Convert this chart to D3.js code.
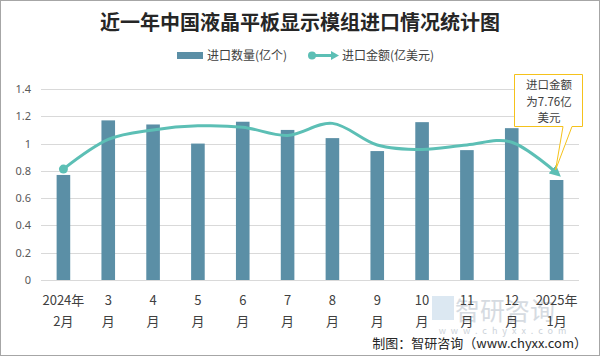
<!DOCTYPE html>
<html><head><meta charset="utf-8">
<script src="https://cdn.jsdelivr.net/npm/d3@7"></script>
<style>body{margin:0;background:#fff}svg{display:block}text{font-family:"Noto Sans CJK SC","Noto Sans",sans-serif}</style>
</head><body><svg id="c" width="600" height="356"></svg>
<script>
const categories = ["2024年|2月","3|月","4|月","5|月","6|月","7|月","8|月","9|月","10|月","11|月","12|月","2025年|1月"];
const quantity = [0.77,1.17,1.14,1.00,1.16,1.10,1.04,0.945,1.157,0.952,1.113,0.733];
const amount = [0.813,1.03,1.10,1.13,1.12,1.06,1.148,0.99,0.957,0.99,1.01,0.785];
const yTicks = [0,0.2,0.4,0.6,0.8,1,1.2,1.4];
const title = "近一年中国液晶平板显示模组进口情况统计图";
const legendNames = ["进口数量(亿个)","进口金额(亿美元)"];
const calloutLines = ["进口金额","为7.76亿","美元"];
const footer = "制图：智研咨询（www.chyxx.com）";

const svg = d3.select("#c");
const barColor = "#5b8fa6", lineColor = "#5cbfb5";
svg.append("rect").attr("x",0.5).attr("y",0.5).attr("width",599).attr("height",355).attr("fill","#fff").attr("stroke","#a6a6a6");

const x = d3.scaleBand().domain(categories).range([41,579]).paddingInner(0).paddingOuter(0);
const y = d3.scaleLinear().domain([0,1.4]).range([280,89]);

// title
svg.append("text").attr("x",300).attr("y",30).attr("text-anchor","middle").attr("font-size",20).attr("font-weight","bold").attr("fill","#262626").text(title);

// legend
svg.append("rect").attr("x",177).attr("y",52).attr("width",26).attr("height",7).attr("fill",barColor);
svg.append("text").attr("x",207).attr("y",60).attr("font-size",12).attr("fill","#404040").text(legendNames[0]);
svg.append("line").attr("x1",312).attr("x2",333).attr("y1",55.5).attr("y2",55.5).attr("stroke",lineColor).attr("stroke-width",3);
svg.append("circle").attr("cx",312).attr("cy",55.5).attr("r",4).attr("fill",lineColor);
svg.append("path").attr("d","M331,51 L339,55.5 L331,60 Z").attr("fill",lineColor);
svg.append("text").attr("x",342).attr("y",60).attr("font-size",12).attr("fill","#404040").text(legendNames[1]);

// grid
svg.append("g").selectAll("line").data(yTicks).join("line")
  .attr("x1",41).attr("x2",579).attr("y1",d=>Math.round(y(d))+0.5).attr("y2",d=>Math.round(y(d))+0.5)
  .attr("stroke","#d9d9d9").attr("stroke-width",1);

// y axis labels
const yAxis = d3.axisLeft(y).tickValues(yTicks).tickSize(0).tickPadding(10).tickFormat(d=>d3.format("~g")(d));
const ga = svg.append("g").attr("transform","translate(41,0)").call(yAxis);
ga.select(".domain").remove();
ga.selectAll("text").attr("font-size",11).attr("fill","#595959").style("font-family","'Noto Sans','DejaVu Sans',sans-serif");

// bars
const bw = 13.6;
svg.append("g").selectAll("rect").data(quantity).join("rect")
  .attr("x",(d,i)=>x(categories[i])+x.bandwidth()/2-bw/2).attr("width",bw)
  .attr("y",d=>y(d)).attr("height",d=>y(0)-y(d)).attr("fill",barColor);

// watermark (behind labels)
svg.append("rect").attr("x",432).attr("y",296).attr("width",22).attr("height",24).attr("fill","#c5d8ea").attr("opacity",0.6);
svg.append("text").attr("x",505).attr("y",320).attr("text-anchor","middle").attr("font-size",25).attr("fill","#cdd3da").attr("opacity",0.8).text("智研咨询");
svg.append("text").attr("x",505).attr("y",334).attr("text-anchor","middle").attr("font-size",9).attr("letter-spacing",5).attr("fill","#cdd3da").text("www.chyxx.com");

// x labels
const xl = svg.append("g");
categories.forEach(c=>{
  const parts = c.split("|");
  const cx = x(c)+x.bandwidth()/2;
  parts.forEach((p,j)=>{
    xl.append("text").attr("x",cx).attr("y",305+j*21).attr("text-anchor","middle").attr("font-size",13).attr("fill","#404040").text(p);
  });
});

// line
const pts = amount.map((d,i)=>[x(categories[i])+x.bandwidth()/2, y(d)]);
const n = pts.length;
const line = d3.line().curve(d3.curveCardinal.tension(0));
svg.append("defs").append("marker").attr("id","arr").attr("viewBox","0 0 10 10").attr("refX",5).attr("refY",5)
  .attr("markerWidth",3.8).attr("markerHeight",3.8).attr("orient","auto")
  .append("path").attr("d","M0,0 L10,5 L0,10 Z").attr("fill",lineColor);
svg.append("path").attr("d",line(pts)).attr("fill","none").attr("stroke",lineColor).attr("stroke-width",3).attr("marker-end","url(#arr)");
svg.append("circle").attr("cx",pts[0][0]).attr("cy",pts[0][1]).attr("r",4.5).attr("fill",lineColor);

// callout
const tip = pts[n-1];
const cg = svg.append("g");
cg.append("path").attr("d",`M514.5,74.5 H582.5 V126.5 H572 L${tip[0]-1},${tip[1]-3} L563,126.5 H514.5 Z`)
  .attr("fill","#fff").attr("stroke","#f5c21b").attr("stroke-width",1);
calloutLines.forEach((t,j)=>{
  cg.append("text").attr("x",549).attr("y",89+j*16.5).attr("text-anchor","middle").attr("font-size",11.5).attr("fill","#404040").text(t);
});

// footer
svg.append("text").attr("x",587).attr("y",348).attr("text-anchor","end").attr("font-size",13).attr("fill","#262626").text(footer);
</script></body></html>
